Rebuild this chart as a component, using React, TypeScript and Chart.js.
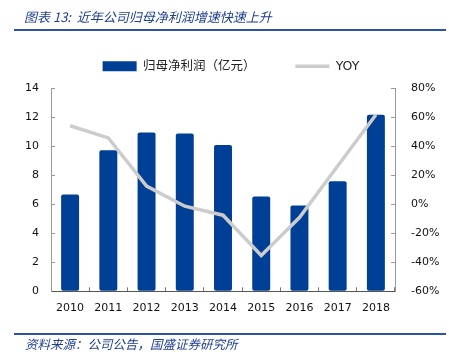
import React, { useEffect, useRef } from "react";
import { Chart, registerables } from "chart.js";

Chart.register(...registerables);

const categories = ["2010", "2011", "2012", "2013", "2014", "2015", "2016", "2017", "2018"];
const profitValues = [6.67, 9.71, 10.93, 10.86, 10.08, 6.53, 5.91, 7.58, 12.16];
const yoyValues = [54, 45.6, 12.4, -1.4, -7.6, -35.3, -9.2, 26.3, 61.6];
const profitLabel = "归母净利润（亿元）";
const yoyLabel = "YOY";
const titleText = "图表 13:  近年公司归母净利润增速快速上升";
const sourceText = "资料来源：公司公告，国盛证券研究所";

const legendHeightFix = {
  id: "legendHeightFix",
  beforeUpdate(chart: any) {
    const lg = chart.legend;
    if (lg && !lg._hfix) {
      const orig = lg.fit.bind(lg);
      lg.fit = function () {
        orig();
        this.height += 5.5;
      };
      lg._hfix = true;
    }
  },
};

export default function App() {
  const ref = useRef<HTMLCanvasElement>(null);
  useEffect(() => {
    if (!ref.current) return;
    const tickFont = { family: "'DejaVu Sans'", size: 11 };
    const chart = new Chart(ref.current, {
      type: "bar",
      data: {
        labels: categories,
        datasets: [
          {
            type: "bar",
            label: profitLabel,
            data: profitValues,
            backgroundColor: "#003f96",
            borderWidth: 0,
            borderRadius: 2,
            borderSkipped: false,
            barPercentage: 0.47,
            categoryPercentage: 1,
            yAxisID: "y",
            order: 2,
            pointStyle: "rect",
          } as any,
          {
            type: "line",
            label: yoyLabel,
            data: yoyValues,
            borderColor: "#cccccc",
            backgroundColor: "#cccccc",
            borderWidth: 3.5,
            pointRadius: 0,
            pointHoverRadius: 0,
            tension: 0,
            yAxisID: "y1",
            order: 1,
            pointStyle: "line",
          } as any,
        ],
      },
      options: {
        responsive: false,
        animation: false,
        devicePixelRatio: 1,
        layout: { padding: { top: 20, left: 13, right: 0, bottom: 38.7 } },
        plugins: {
          tooltip: { enabled: false },
          legend: {
            position: "top",
            labels: {
              usePointStyle: true,
              pointStyleWidth: 34,
              boxHeight: 10,
              padding: 40,
              color: "#222",
              font: { family: "'DejaVu Sans', 'Noto Sans CJK SC'", size: 12.5 },
              sort: (a: any, b: any) => a.datasetIndex - b.datasetIndex,
            },
          },
        },
        scales: {
          x: {
            offset: true,
            grid: { drawOnChartArea: false, drawTicks: true, tickLength: -4, color: "#777", offset: true },
            border: { color: "#555", width: 1 },
            ticks: { color: "#111", font: tickFont, padding: 14, maxRotation: 0 },
            afterFit: (s: any) => { s.height = 30; },
          },
          y: {
            position: "left",
            min: 0,
            max: 14,
            grid: { drawOnChartArea: false, drawTicks: true, tickLength: -4, color: "#999" },
            border: { color: "#999", width: 1 },
            ticks: { stepSize: 2, color: "#111", font: tickFont, padding: 16 },
            afterFit: (s: any) => { s.width = 38; },
          },
          y1: {
            position: "right",
            min: -60,
            max: 80,
            grid: { drawOnChartArea: false, drawTicks: true, tickLength: -4, color: "#999" },
            border: { color: "#999", width: 1 },
            ticks: { stepSize: 20, color: "#111", font: tickFont, padding: 20, callback: (v: any) => v + "%" },
            afterFit: (s: any) => { s.width = 54; },
          },
        },
      },
      plugins: [legendHeightFix],
    });
    return () => chart.destroy();
  }, []);

  const blue = "#1f3f8f";
  return (
    <div style={{ position: "absolute", left: 0, top: 0, width: 449, height: 360, background: "#fff", overflow: "hidden" }}>
      <canvas ref={ref} width={449} height={360} style={{ position: "absolute", left: 0, top: 0, width: 449, height: 360 }} />
      <div style={{ position: "absolute", left: 24, top: 8, fontFamily: "'Noto Sans CJK SC'", fontStyle: "italic", fontSize: 13, color: blue, whiteSpace: "pre", lineHeight: "18px" }}>
        {titleText}
      </div>
      <div style={{ position: "absolute", left: 14, top: 29, width: 432, height: 2, background: "#2c54a6" }} />
      <div style={{ position: "absolute", left: 14, top: 333, width: 432, height: 2, background: "#2c54a6" }} />
      <div style={{ position: "absolute", left: 25, top: 335, fontFamily: "'Noto Sans CJK SC'", fontStyle: "italic", fontSize: 12.5, color: blue, whiteSpace: "pre", lineHeight: "17px" }}>
        {sourceText}
      </div>
    </div>
  );
}
